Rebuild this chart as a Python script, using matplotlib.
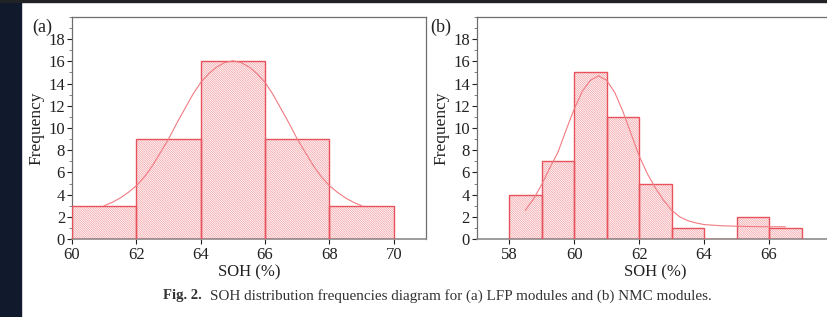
import matplotlib
matplotlib.use("Agg")
import matplotlib.pyplot as plt
from matplotlib.patches import Rectangle
from matplotlib.ticker import MultipleLocator

# ---- data ----
# (a) LFP modules
lfp_bin_left = [60, 62, 64, 66, 68]
lfp_bin_width = 2
lfp_counts = [3, 9, 16, 9, 3]
lfp_fit_x = [61, 61.25, 61.5, 61.75, 62, 62.25, 62.5, 62.75, 63, 63.25, 63.5, 63.75, 64,
             64.25, 64.5, 64.75, 65, 65.25, 65.5, 65.75, 66, 66.25, 66.5, 66.75, 67,
             67.25, 67.5, 67.75, 68, 68.25, 68.5, 68.75, 69]
lfp_fit_y = [3.0, 3.3, 3.7, 4.2, 4.8, 5.6, 6.6, 7.8, 9.0, 10.4, 11.7, 13.0, 14.1,
             14.9, 15.5, 15.9, 16.05, 15.9, 15.5, 14.9, 14.1, 13.0, 11.7, 10.4, 9.0,
             7.8, 6.6, 5.6, 4.8, 4.2, 3.7, 3.3, 3.0]
lfp_xticks = [60, 62, 64, 66, 68, 70]

# (b) NMC modules
nmc_bin_left = [58, 59, 60, 61, 62, 63, 64, 65, 66]
nmc_bin_width = 1
nmc_counts = [4, 7, 15, 11, 5, 1, 0, 2, 1]
nmc_fit_x = [58.5, 58.75, 59.0, 59.25, 59.5, 59.75, 60.0, 60.25, 60.5, 60.75, 61.0,
             61.25, 61.5, 61.75, 62.0, 62.25, 62.5, 62.75, 63.0, 63.25, 63.5, 63.75,
             64.0, 64.5, 65.0, 65.5, 66.0, 66.5]
nmc_fit_y = [2.6, 3.6, 4.9, 6.4, 7.8, 9.8, 11.7, 13.3, 14.3, 14.7, 14.3,
             13.2, 11.5, 9.5, 7.5, 5.9, 4.6, 3.5, 2.6, 2.0, 1.65, 1.45,
             1.3, 1.2, 1.15, 1.12, 1.1, 1.1]
nmc_xticks = [58, 60, 62, 64, 66]

yticks = [0, 2, 4, 6, 8, 10, 12, 14, 16, 18]

EDGE = '#e8525b'
HATCH = '#f29aa0'
CURVE = '#f27b82'
SPINE = '#6e6e6e'
TXT = '#222222'

plt.rcParams['hatch.linewidth'] = 0.5
plt.rcParams['font.family'] = ['Liberation Serif', 'DejaVu Serif']

fig = plt.figure(figsize=(8.28, 3.17), dpi=100)
W, H = 828, 317

# dark page frame (left strip + top band)
fig.patches.append(Rectangle((0, 0), 21 / W, 1, transform=fig.transFigure,
                             color='#101a2c', zorder=-5))
fig.patches.append(Rectangle((0, 1 - 2 / H), 1, 2 / H, transform=fig.transFigure,
                             color='#202226', zorder=-5))


def px_axes(x0, x1, y0=17, y1=239):
    return fig.add_axes([x0 / W, 1 - y1 / H, (x1 - x0) / W, (y1 - y0) / H])


def draw_panel(ax, left, width, counts, fx, fy, xlim, xticks):
    ax.bar(left, counts, width=width, align='edge', facecolor='white',
           edgecolor=HATCH, hatch='\\' * 15, linewidth=0, zorder=2)
    ax.bar(left, counts, width=width, align='edge', fill=False,
           edgecolor=EDGE, linewidth=1.0, zorder=3)
    ax.plot(fx, fy, color=CURVE, lw=0.8, zorder=4)
    ax.set_xlim(*xlim)
    ax.set_ylim(0, 20)
    ax.set_xticks(xticks)
    ax.set_yticks(yticks)
    ax.yaxis.set_minor_locator(MultipleLocator(1))
    ax.tick_params(axis='both', direction='out', labelsize=12, colors=TXT,
                   length=3.5, width=0.8, pad=1.5)
    ax.tick_params(axis='y', which='minor', direction='out', length=2, width=0.6,
                   colors=SPINE)
    ax.tick_params(axis='x', pad=2)
    for side in ['left', 'top', 'right']:
        ax.spines[side].set_color(SPINE)
        ax.spines[side].set_linewidth(0.9)
    ax.spines['bottom'].set_color('#8c8c8c')
    ax.spines['bottom'].set_linewidth(1.2)
    ax.set_xlabel('SOH (%)', fontsize=12, color=TXT, labelpad=1)
    ax.set_ylabel('Frequency', fontsize=12.5, color=TXT, labelpad=2.5)


ax1 = px_axes(72, 426)
draw_panel(ax1, lfp_bin_left, lfp_bin_width, lfp_counts, lfp_fit_x, lfp_fit_y,
           (60, 71), lfp_xticks)

ax2 = px_axes(476.7, 834)
draw_panel(ax2, nmc_bin_left, nmc_bin_width, nmc_counts, nmc_fit_x, nmc_fit_y,
           (57, 68), nmc_xticks)

fig.text(42 / W, 1 - 27 / H, '(a)', fontsize=13, ha='center', va='center', color=TXT)
fig.text(441 / W, 1 - 27 / H, '(b)', fontsize=13, ha='center', va='center', color=TXT)

# caption
fig.text(163 / W, 1 - 296 / H, 'Fig. 2.', fontsize=10.5, fontweight='bold',
         ha='left', va='center', color='#333333')
fig.text(210 / W, 1 - 296 / H,
         'SOH distribution frequencies diagram for (a) LFP modules and (b) NMC modules.',
         fontsize=10.9, ha='left', va='center', color='#333333')

fig.savefig('out.png', dpi=100)
